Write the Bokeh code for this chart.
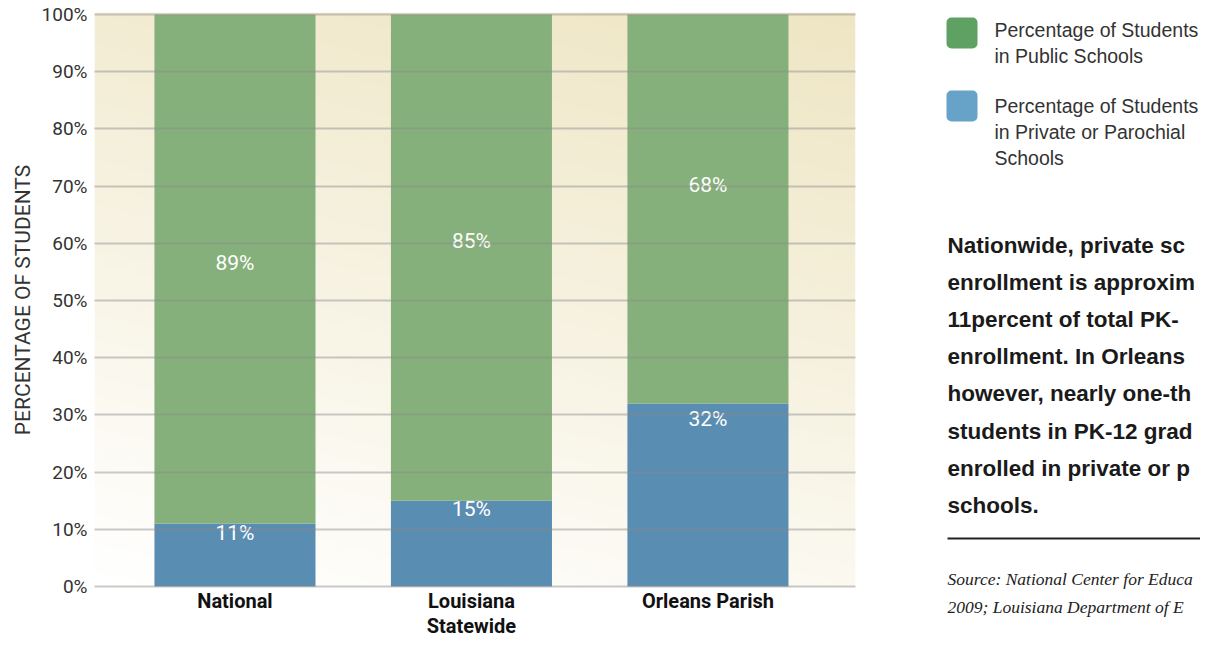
import numpy as np
from bokeh.plotting import figure
from bokeh.layouts import row
from bokeh.models import Range1d, FixedTicker, PrintfTickFormatter
from bokeh.core.properties import value
from bokeh.embed import file_html
from bokeh.resources import INLINE

# ---------------- data ----------------
categories = ["National", "Louisiana\nStatewide", "Orleans Parish"]
public_pct = [89, 85, 68]
private_pct = [11, 15, 32]
public_labels = ["89%", "85%", "68%"]
private_labels = ["11%", "15%", "32%"]
y_ticks = [0, 10, 20, 30, 40, 50, 60, 70, 80, 90, 100]

legend_names = ["Percentage of Students\nin Public Schools",
                "Percentage of Students\nin Private or Parochial\nSchools"]
# the reference shows this note cut off at its right edge
paragraph = ["Nationwide, private sc",
             "enrollment is approxim",
             "11percent of total PK-",
             "enrollment. In Orleans",
             "however, nearly one-th",
             "students in PK-12 grad",
             "enrolled in private or p",
             "schools."]
source_lines = ["Source: National Center for Educa",
                "2009; Louisiana Department of E"]

# ---------------- layout / style ----------------
public_label_y = [56.5, 60.4, 70.2]
private_label_y = [9.4, 13.6, 29.3]
GREEN = "#86B07B"
BLUE = "#5A8DB2"
LEG_GREEN = "#5FA063"
LEG_BLUE = "#67A2C9"

W, H = 1200, 640
PANEL_X = 940

x = list(range(len(categories)))
totals = [a + b for a, b in zip(private_pct, public_pct)]
X0, X1 = -0.594, 2.624
Y0, Y1 = -0.17, 100.35
BAR_W = 0.681

p = figure(width=PANEL_X, height=H, x_range=Range1d(X0, X1), y_range=Range1d(Y0, Y1),
           output_backend="svg", toolbar_location=None,
           min_border_left=94, min_border_right=PANEL_X - 855, min_border_top=12,
           min_border_bottom=H - 588)
p.outline_line_color = None
p.background_fill_color = "white"
p.border_fill_color = "white"
p.frame_align = False

# gradient background (cream top-right -> white bottom-left)
ny, nx = 150, 200
u = np.linspace(0, 1, nx)[None, :]
v = np.linspace(0, 1, ny)[:, None]
t = np.clip(0.25 * u + 0.75 * v, 0, 1)
cream = np.array([238, 229, 195], dtype=float)
img = np.empty((ny, nx), dtype=np.uint32)
view = img.view(dtype=np.uint8).reshape((ny, nx, 4))
for k in range(3):
    view[:, :, k] = np.round(255 + t * (cream[k] - 255)).astype(np.uint8)
view[:, :, 3] = 255
p.image_rgba(image=[img], x=X0, y=Y0, dw=X1 - X0, dh=Y1 - Y0)

p.vbar(x=x, bottom=0, top=private_pct, width=BAR_W, fill_color=BLUE, line_color=None)
p.vbar(x=x, bottom=private_pct, top=totals, width=BAR_W, fill_color=GREEN, line_color=None)

p.text(x=x, y=public_label_y, text=public_labels, text_align="center", text_baseline="middle",
       text_color="white", text_font=value("Roboto"), text_font_size="21px")
p.text(x=x, y=private_label_y, text=private_labels, text_align="center", text_baseline="middle",
       text_color="white", text_font=value("Roboto"), text_font_size="21px")

# axes
p.xaxis.ticker = FixedTicker(ticks=x)
p.xaxis.major_label_overrides = {i: c for i, c in zip(x, categories)}
p.xaxis.major_label_text_font = "Roboto"
p.xaxis.major_label_text_font_style = "bold"
p.xaxis.major_label_text_font_size = "20px"
p.xaxis.major_label_text_color = "#111111"
p.xaxis.major_label_text_line_height = 1.05
p.xaxis.axis_line_color = None
p.xaxis.major_tick_line_color = None
p.xaxis.minor_tick_line_color = None
p.xaxis.major_tick_out = 0
p.xaxis.major_tick_in = 0
p.xaxis.major_label_standoff = 1

p.yaxis.ticker = FixedTicker(ticks=y_ticks)
p.yaxis.formatter = PrintfTickFormatter(format="%d%%")
p.yaxis.major_label_text_font = "Roboto"
p.yaxis.major_label_text_font_size = "19px"
p.yaxis.major_label_text_color = "#333333"
p.yaxis.axis_line_color = None
p.yaxis.major_tick_line_color = None
p.yaxis.minor_tick_line_color = None
p.yaxis.major_tick_out = 0
p.yaxis.major_tick_in = 0
p.yaxis.major_label_standoff = 7
p.yaxis.axis_label = "PERCENTAGE OF STUDENTS"
p.yaxis.axis_label_text_font = "Roboto"
p.yaxis.axis_label_text_font_style = "normal"
p.yaxis.axis_label_text_font_size = "21px"
p.yaxis.axis_label_text_color = "#333333"
p.yaxis.axis_label_standoff = 4

p.xgrid.grid_line_color = None
p.ygrid.ticker = FixedTicker(ticks=y_ticks)
p.ygrid.grid_line_color = "#8a8a8a"
p.ygrid.grid_line_alpha = 0.45
p.ygrid.grid_line_width = 2
p.ygrid.level = "overlay"

# ---------------- right panel (coordinates = page pixels) ----------------
q = figure(width=W - PANEL_X, height=H, x_range=Range1d(PANEL_X, W), y_range=Range1d(H, 0),
           output_backend="svg", toolbar_location=None, min_border=0)
q.frame_align = False
q.axis.visible = False
q.grid.visible = False
q.outline_line_color = None
q.background_fill_color = "white"
q.border_fill_color = "white"

q.quad(left=[946, 946], right=[977, 977], top=[17, 90], bottom=[48, 121],
       fill_color=[LEG_GREEN, LEG_BLUE], line_color=None, border_radius=5)

leg_x, leg_y, leg_t = [], [], []
for name, y0 in zip(legend_names, [29, 105]):
    for i, line in enumerate(name.split("\n")):
        leg_t.append(line)
        leg_x.append(994)
        leg_y.append(y0 + 26 * i)
q.text(x=leg_x, y=leg_y, text=leg_t, text_align="left", text_baseline="middle",
       text_color="#333333", text_font=value("Liberation Sans"), text_font_size="19.5px")

q.text(x=[947] * len(paragraph), y=[245 + 37.1 * i for i in range(len(paragraph))], text=paragraph,
       text_align="left", text_baseline="middle", text_color="#1a1a1a",
       text_font=value("Liberation Sans"), text_font_style="bold", text_font_size="22.5px")

q.segment(x0=[947], x1=[W], y0=[538], y1=[538], line_color="#222222", line_width=2)

q.text(x=[947, 947], y=[578, 606], text=source_lines, text_align="left", text_baseline="middle",
       text_color="#222222", text_font=value("Liberation Serif"), text_font_style="italic",
       text_font_size="17.5px")

layout = row(p, q, spacing=0)
open("out.html", "w").write(file_html(layout, INLINE))
